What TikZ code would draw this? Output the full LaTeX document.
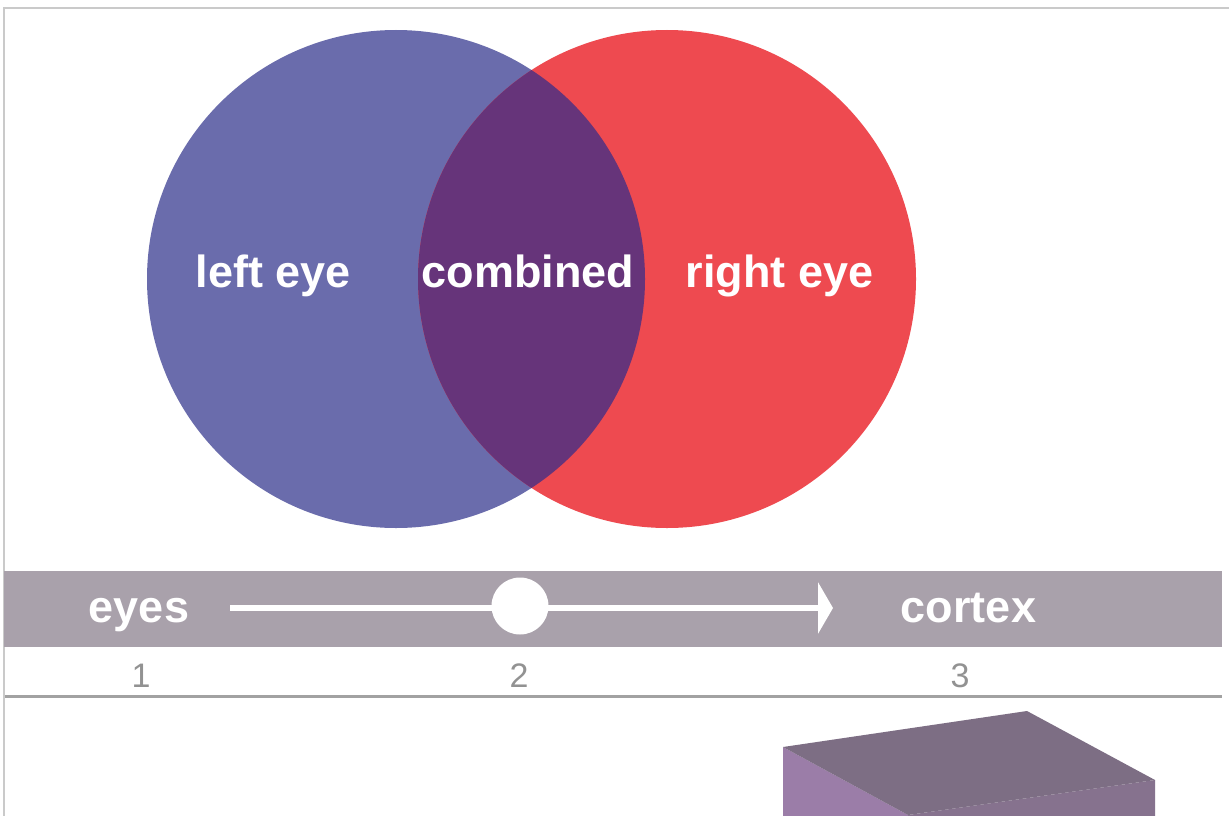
\documentclass[tikz,border=0pt]{standalone}
\usepackage{fontspec}
\setmainfont{Liberation Sans}
\usetikzlibrary{arrows.meta}
\definecolor{lefteye}{HTML}{6A6CAC}
\definecolor{righteye}{HTML}{EE4A50}
\definecolor{overlap}{HTML}{66347A}
\definecolor{band}{HTML}{A9A1AB}
\definecolor{numgrey}{HTML}{929292}
\definecolor{framegrey}{HTML}{CACACA}
\definecolor{rulegrey}{HTML}{A2A2A2}
\definecolor{cubetop}{HTML}{7D6E84}
\definecolor{cubeleft}{HTML}{9B7DA8}
\definecolor{cuberight}{HTML}{86728E}
\tikzset{
  biglabel/.style={text=white, font=\bfseries\fontsize{45}{50}\selectfont, inner sep=0pt, anchor=base},
  bandlabel/.style={text=white, font=\bfseries\fontsize{45}{50}\selectfont, inner sep=0pt, anchor=base},
  numlabel/.style={text=numgrey, font=\fontsize{34}{38}\selectfont, inner sep=0pt, anchor=base},
  flow/.style={white, line width=6pt, -{Triangle[length=15pt, width=51pt]}},
  dot/.style={circle, fill=white, minimum size=57pt, inner sep=0pt}
}
\begin{document}
\begin{tikzpicture}[x=1pt, y=-1pt]
\useasboundingbox (0,0) rectangle (1229,816);
\fill[white] (0,0) rectangle (1229,816);

% outer frame
\draw[framegrey, line width=1.6pt] (1229,8) -- (4,8) -- (4,816);

% two overlapping discs
\fill[lefteye] (396,279) circle (249);
\fill[righteye] (667,279) circle (249);
\begin{scope}
  \clip (396,279) circle (249);
  \fill[overlap] (667,279) circle (249);
\end{scope}

\node[biglabel] (left) at (273.5,287) {left eye};
\node[biglabel] (comb) at (528,287) {combined};
\node[biglabel] (right) at (779.5,287) {right eye};

% pathway band
\fill[band] (4,571) rectangle (1222,647);
\draw[rulegrey, line width=3pt] (4,696) -- (1222,696);
\draw[framegrey, line width=1.6pt] (4,647) -- (4,816);

\node[bandlabel] (eyes) at (139,622) {eyes};
\node[bandlabel] (cortex) at (968.5,622) {cortex};
\coordinate (start) at (230,608);
\coordinate (tip) at (833,608);
\draw[flow] (start) -- (tip);
\node[dot] (mid) at (520,606) {};

\node[numlabel] (n1) at (141,687) {1};
\node[numlabel] (n2) at (519,687) {2};
\node[numlabel] (n3) at (960,687) {3};

% block at the bottom
\begin{scope}
  \clip (0,698) rectangle (1229,816);
  \fill[cubeleft] (783,747) -- (908,815) -- (908,830) -- (783,830) -- cycle;
  \fill[cuberight] (908,815) -- (1155,780) -- (1155,830) -- (908,830) -- cycle;
  \fill[cubetop] (783,747) -- (1027,711) -- (1155,780) -- (908,815) -- cycle;
\end{scope}
\end{tikzpicture}
\end{document}
